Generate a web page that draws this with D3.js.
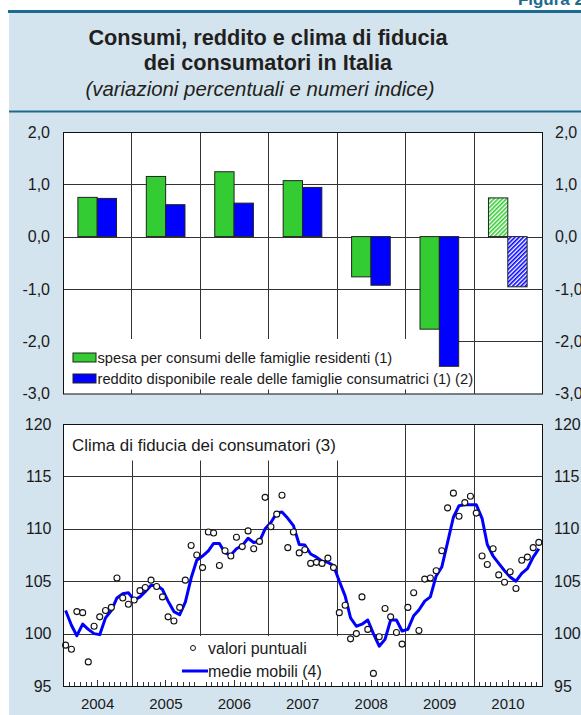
<!DOCTYPE html>
<html>
<head>
<meta charset="utf-8">
<script src="https://cdnjs.cloudflare.com/ajax/libs/d3/7.8.5/d3.min.js"></script>
<style>
  body { margin: 0; background: #fff; }
  svg { display: block; font-family: "Liberation Sans", Arial, Helvetica, sans-serif; }
</style>
</head>
<body>
<svg id="chart" width="581" height="715"></svg>
<script>
// ----- Data -----
// Annual growth rates (%); 2010 is an estimate, drawn hatched.
const years = ['2004', '2005', '2006', '2007', '2008', '2009', '2010'];
const estimateYears = ['2010'];
const spesa   = [0.75, 1.15, 1.24, 1.07, -0.77, -1.77, 0.74];
const reddito = [0.73, 0.61, 0.64, 0.94, -0.93, -2.48, -0.96];
const barTicks = [2, 1, 0, -1, -2, -3];

// Consumer confidence, monthly Jan 2004 .. Dec 2010.
const climaPunti = [
  98.9, 98.5, 102.1, 102.0, 97.3, 100.7, 101.6, 102.2, 102.5, 105.3, 103.4, 102.8,
  103.2, 104.1, 104.4, 105.1, 104.5, 103.5, 101.6, 101.2, 102.5, 105.1, 108.4, 107.5,
  106.3, 109.7, 109.6, 106.5, 107.9, 107.4, 109.2, 108.3, 109.8, 108.1, 108.8, 113.0,
  110.2, 111.4, 113.2, 108.2, 109.7, 107.7, 108.0, 106.7, 106.8, 106.7, 107.2, 106.3,
  102.0, 102.7, 99.5, 100.0, 103.5, 100.4, 96.2, 99.7, 102.4, 101.6, 100.1, 99.0,
  102.5, 103.9, 100.3, 105.2, 105.3, 106.0, 107.9, 112.0, 113.4, 111.2, 112.5, 113.1,
  111.5, 107.4, 106.6, 108.1, 105.6, 104.9, 105.9, 104.3, 107.0, 107.3, 108.2, 108.7
];
const climaMedie = [
  102.2, 100.8, 99.8, 100.9, 100.4, 100.0, 99.9, 101.5, 102.2, 103.4, 103.8, 103.9,
  103.2, 103.5, 104.0, 104.6, 104.6, 104.2, 103.1, 102.1, 101.8, 103.0, 105.3, 107.0,
  107.4, 107.9, 108.6, 108.6, 107.7, 107.5, 108.1, 108.4, 109.1, 108.7, 108.8, 110.0,
  110.6, 111.5, 111.6, 111.0, 110.3, 108.5, 108.45, 107.6, 107.3, 106.9, 106.8, 106.5,
  105.0, 103.6, 101.5, 100.7, 100.9, 101.3, 100.0, 98.8, 99.45, 101.3, 101.3, 100.25,
  100.4, 101.7, 102.25, 103.1, 103.5, 105.5, 106.35, 108.7, 111.1, 112.2, 112.3, 112.3,
  112.3, 111.0, 108.5, 107.4, 106.7, 106.0, 105.4, 105.0, 105.75, 106.2, 107.3, 108.1
];
const climaTicks = [95, 100, 105, 110, 115, 120];
const climaYears = [2004, 2005, 2006, 2007, 2008, 2009, 2010];

const GREEN = '#33cc33', BLUE = '#0000ff', GRID = '#333', INK = '#1a1a1a';
const itFormat = d3.formatLocale({decimal: ',', thousands: '.', grouping: [3], currency: ['', '€'], minus: '-'});
const fmt1 = itFormat.format('.1f');

const svg = d3.select('#chart');

// ----- Frame: light blue panel with header -----
svg.append('rect').attr('x', 9).attr('y', 12).attr('width', 572).attr('height', 703).attr('fill', '#d4e4ee');
svg.append('rect').attr('x', 8).attr('y', 10).attr('width', 573).attr('height', 3).attr('fill', '#1d6a90');
svg.append('rect').attr('x', 9).attr('y', 110.5).attr('width', 572).attr('height', 2).attr('fill', '#1d6a90');
svg.append('text').attr('x', 584).attr('y', 5).attr('text-anchor', 'end')
  .attr('font-size', 17).attr('font-weight', 'bold').attr('fill', '#1d6a90').text('Figura 2');

svg.append('text').attr('x', 268).attr('y', 45).attr('text-anchor', 'middle')
  .attr('font-size', 21.7).attr('font-weight', 'bold').attr('fill', '#231f20')
  .text('Consumi, reddito e clima di fiducia');
svg.append('text').attr('x', 268).attr('y', 70).attr('text-anchor', 'middle')
  .attr('font-size', 21.7).attr('font-weight', 'bold').attr('fill', '#231f20')
  .text('dei consumatori in Italia');
svg.append('text').attr('x', 260).attr('y', 96).attr('text-anchor', 'middle')
  .attr('font-size', 20.4).attr('font-style', 'italic').attr('fill', '#231f20')
  .text('(variazioni percentuali e numeri indice)');

// Hatch patterns for the estimate year.
const defs = svg.append('defs');
[['hatch-green', GREEN], ['hatch-blue', BLUE]].forEach(([id, c]) => {
  const p = defs.append('pattern').attr('id', id).attr('patternUnits', 'userSpaceOnUse')
    .attr('width', 3).attr('height', 3).attr('patternTransform', 'rotate(45)');
  p.append('rect').attr('width', 3).attr('height', 3).attr('fill', '#fff');
  p.append('rect').attr('width', 1.6).attr('height', 3).attr('fill', c);
});

const L = 63, R = 542;

// ----- Top panel: bar chart -----
(function () {
  const x = d3.scaleBand().domain(years).range([L, R]);
  const xi = d3.scaleBand().domain(['spesa', 'reddito']).range([0, x.bandwidth()]).paddingOuter(0.77);
  const y = d3.scaleLinear().domain([-3, 2]).range([393.5, 132]);
  const g = svg.append('g');

  g.append('rect').attr('x', L).attr('y', y(2)).attr('width', R - L).attr('height', y(-3) - y(2)).attr('fill', '#fff');
  g.selectAll('.hgrid').data(barTicks.filter(d => d > -3 && d < 2)).join('line')
    .attr('x1', L).attr('x2', R).attr('y1', d => Math.round(y(d)) + 0.5).attr('y2', d => Math.round(y(d)) + 0.5)
    .attr('stroke', GRID);
  g.selectAll('.vgrid').data(years.slice(1)).join('line')
    .attr('x1', d => Math.round(x(d)) + 0.5).attr('x2', d => Math.round(x(d)) + 0.5)
    .attr('y1', y(2)).attr('y2', y(-3)).attr('stroke', GRID);

  // legend area hides the grid
  g.append('rect').attr('x', L + 0.5).attr('y', 339).attr('width', 387).attr('height', y(-3) - 339).attr('fill', '#fff');
  g.selectAll('.btick').data(years.slice(1)).join('line')
    .attr('x1', d => Math.round(x(d)) + 0.5).attr('x2', d => Math.round(x(d)) + 0.5)
    .attr('y1', y(-3) - 4).attr('y2', y(-3)).attr('stroke', GRID);

  const rows = years.map((yr, i) => ({yr, spesa: spesa[i], reddito: reddito[i]}));
  ['spesa', 'reddito'].forEach(key => {
    const col = key === 'spesa' ? GREEN : BLUE;
    g.selectAll('.bar-' + key).data(rows).join('rect')
      .attr('x', d => x(d.yr) + xi(key))
      .attr('width', xi.bandwidth())
      .attr('y', d => y(Math.max(0, d[key])))
      .attr('height', d => Math.abs(y(d[key]) - y(0)))
      .attr('fill', d => estimateYears.includes(d.yr) ? `url(#hatch-${key === 'spesa' ? 'green' : 'blue'})` : col)
      .attr('stroke', '#222').attr('stroke-width', 1);
  });

  g.append('rect').attr('x', L + 0.5).attr('y', y(2) + 0.5).attr('width', R - L).attr('height', y(-3) - y(2))
    .attr('fill', 'none').attr('stroke', '#111');

  const legend = [
    {label: 'spesa per consumi delle famiglie residenti (1)', color: GREEN},
    {label: 'reddito disponibile reale delle famiglie consumatrici (1) (2)', color: BLUE}
  ];
  const lg = g.selectAll('.leg').data(legend).join('g')
    .attr('transform', (d, i) => `translate(73, ${353 + i * 21})`);
  lg.append('rect').attr('width', 23).attr('height', 9).attr('fill', d => d.color).attr('stroke', '#222');
  lg.append('text').attr('x', 24.5).attr('y', 10).attr('font-size', 14.7).attr('fill', INK).text(d => d.label);

  const axisL = d3.axisLeft(y).tickValues(barTicks).tickFormat(fmt1).tickSize(0).tickPadding(0);
  const axisR = d3.axisRight(y).tickValues(barTicks).tickFormat(fmt1).tickSize(0).tickPadding(0);
  [[axisL, 50], [axisR, 555]].forEach(([ax, tx]) => {
    const a = svg.append('g').attr('transform', `translate(${tx},0)`).call(ax);
    a.select('.domain').remove();
    a.selectAll('text').attr('font-size', 16).attr('fill', INK).attr('font-family', null);
  });
})();

// ----- Bottom panel: consumer confidence -----
(function () {
  const x = d3.scaleTime().domain([new Date(2004, 0, 1), new Date(2011, 0, 1)]).range([L, R]);
  const y = d3.scaleLinear().domain([95, 120]).range([686, 424]);
  const months = climaPunti.map((v, i) => new Date(2004, i, 15));
  const g = svg.append('g');

  g.append('rect').attr('x', L).attr('y', y(120)).attr('width', R - L).attr('height', y(95) - y(120)).attr('fill', '#fff');
  g.selectAll('.hgrid').data(climaTicks.filter(d => d > 95 && d < 120)).join('line')
    .attr('x1', L).attr('x2', R).attr('y1', d => Math.round(y(d)) + 0.5).attr('y2', d => Math.round(y(d)) + 0.5)
    .attr('stroke', GRID);
  g.selectAll('.vgrid').data(climaYears.slice(1)).join('line')
    .attr('x1', d => Math.round(x(new Date(d, 0, 1))) + 0.5).attr('x2', d => Math.round(x(new Date(d, 0, 1))) + 0.5)
    .attr('y1', y(120)).attr('y2', y(95)).attr('stroke', GRID);

  // title and legend boxes hide the grid
  g.append('rect').attr('x', L + 0.5).attr('y', y(120) + 0.5).attr('width', 277).attr('height', 36).attr('fill', '#fff');
  g.append('rect').attr('x', 140).attr('y', 636).attr('width', 200).attr('height', y(95) - 636).attr('fill', '#fff');

  // monthly ticks, taller in July
  const mticks = d3.timeMonth.range(new Date(2004, 0, 1), new Date(2011, 0, 1)).filter(d => d.getMonth() !== 0);
  g.selectAll('.mtick').data(mticks).join('line')
    .attr('x1', d => Math.round(x(d)) + 0.5).attr('x2', d => Math.round(x(d)) + 0.5)
    .attr('y1', d => y(95) - (d.getMonth() === 6 ? 6 : 4)).attr('y2', y(95)).attr('stroke', GRID);

  const line = d3.line().x((d, i) => x(months[i])).y(d => y(d));
  g.append('path').datum(climaMedie).attr('d', line)
    .attr('fill', 'none').attr('stroke', BLUE).attr('stroke-width', 3).attr('stroke-linejoin', 'round');
  g.selectAll('.pt').data(climaPunti).join('circle')
    .attr('cx', (d, i) => x(months[i])).attr('cy', d => y(d)).attr('r', 3)
    .attr('fill', '#fff').attr('stroke', '#111').attr('stroke-width', 1.1);

  g.append('rect').attr('x', L + 0.5).attr('y', y(120) + 0.5).attr('width', R - L).attr('height', y(95) - y(120))
    .attr('fill', 'none').attr('stroke', '#111');

  g.append('text').attr('x', 72).attr('y', 451).attr('font-size', 16.9).attr('fill', INK)
    .text('Clima di fiducia dei consumatori (3)');

  g.append('circle').attr('cx', 193).attr('cy', 648).attr('r', 2.5).attr('fill', '#fff').attr('stroke', '#111');
  g.append('text').attr('x', 208).attr('y', 654).attr('font-size', 16).attr('fill', INK).text('valori puntuali');
  g.append('line').attr('x1', 182).attr('x2', 208).attr('y1', 671).attr('y2', 671).attr('stroke', BLUE).attr('stroke-width', 3);
  g.append('text').attr('x', 208).attr('y', 677).attr('font-size', 16).attr('fill', INK).text('medie mobili (4)');

  const axisL = d3.axisLeft(y).tickValues(climaTicks).tickSize(0).tickPadding(0);
  const axisR = d3.axisRight(y).tickValues(climaTicks).tickSize(0).tickPadding(0);
  [[axisL, 51.5], [axisR, 554]].forEach(([ax, tx]) => {
    const a = svg.append('g').attr('transform', `translate(${tx},0)`).call(ax);
    a.select('.domain').remove();
    a.selectAll('text').attr('font-size', 16).attr('fill', INK).attr('font-family', null);
  });

  const axisB = d3.axisBottom(x).tickValues(climaYears.map(d => new Date(d, 6, 1)))
    .tickFormat(d3.timeFormat('%Y')).tickSize(0).tickPadding(12);
  const b = svg.append('g').attr('transform', `translate(0,${y(95)})`).call(axisB);
  b.select('.domain').remove();
  b.selectAll('text').attr('font-size', 15).attr('fill', INK).attr('font-family', null);
})();
</script>
</body>
</html>
